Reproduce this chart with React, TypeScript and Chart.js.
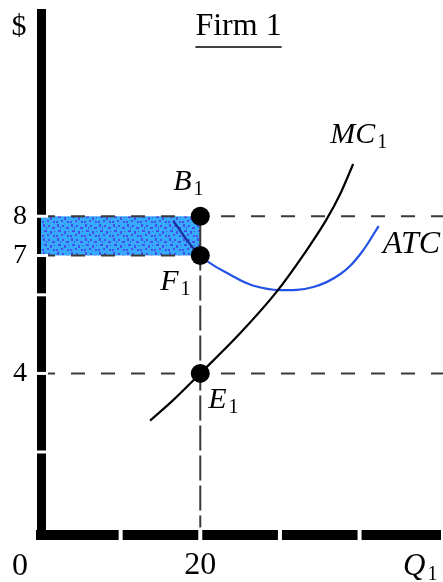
import React, { useEffect, useRef } from 'react';
import { Chart, registerables } from 'chart.js';

Chart.register(...registerables);

// ---- data ----
const quantityTicks = [10, 20, 30, 40];
const quantityTickLabels = ['', '20', '', ''];
const priceTicks = [2, 4, 6, 7, 8];
const priceTickLabels = ['', '4', '', '7', '8'];

const mcQuantity = [13.7, 16.6, 20, 25, 29.6, 33, 35.8, 37.6, 39.2];
const mcCost = [2.8, 3.32, 4, 5.02, 6.08, 7.03, 7.9, 8.58, 9.33];

const atcQuantity = [16.6, 20, 24.2, 26.7, 30, 34.2, 37.6, 40.1, 42.4];
const atcCost = [7.88, 7.0, 6.46, 6.23, 6.12, 6.2, 6.53, 7.04, 7.75];

const firmOutput = 20;
const marketPrice = 8;
const averageCost = 7;
const marginalCost = 4;
const dashedLineEnd = 50.5;
const pointNames = ['B', 'F', 'E'];
const pointValues = [marketPrice, averageCost, marginalCost];

const SERIF = '"Liberation Serif", "Times New Roman", serif';
const DASH = [14, 16];
const DASH_COLOR = '#3a3a3a';

function makePattern(): CanvasPattern | string {
  const c = document.createElement('canvas');
  c.width = 14;
  c.height = 14;
  const g = c.getContext('2d');
  if (!g) return '#3d8ff0';
  g.fillStyle = '#38aafc';
  g.fillRect(0, 0, 14, 14);
  g.fillStyle = '#4650ea';
  const specks = [
    [1, 0, 2, 3], [6, 1, 2, 2], [10, 3, 3, 2], [2, 6, 3, 2], [8, 7, 2, 3], [0, 11, 2, 2], [5, 10, 2, 2], [11, 11, 2, 2], [4, 3, 1, 2], [12, 7, 1, 1],
  ];
  specks.forEach(([x, y, w, h]) => g.fillRect(x, y, w, h));
  return g.createPattern(c, 'repeat') || '#3d8ff0';
}

const pts = (xs: number[], ys: number[]) => xs.map((x, i) => ({ x, y: ys[i] }));

export default function App() {
  const ref = useRef<HTMLCanvasElement | null>(null);

  useEffect(() => {
    document.body.style.margin = '0';
    const canvas = ref.current;
    if (!canvas) return;

    const annotations = {
      id: 'annotations',
      afterDraw(chart: any) {
        const { ctx, chartArea, scales } = chart;
        const xs = scales.x;
        const ys = scales.y;
        ctx.save();
        // axis gaps
        ctx.strokeStyle = '#ffffff';
        ctx.lineWidth = 3;
        priceTicks.forEach((v) => {
          const py = ys.getPixelForValue(v);
          ctx.beginPath();
          ctx.moveTo(chartArea.left - 7, py);
          ctx.lineTo(chartArea.left + 7, py);
          ctx.stroke();
        });
        ctx.lineWidth = 4;
        quantityTicks.forEach((v) => {
          const px = xs.getPixelForValue(v);
          ctx.beginPath();
          ctx.moveTo(px, chartArea.bottom - 7);
          ctx.lineTo(px, chartArea.bottom + 7);
          ctx.stroke();
        });

        ctx.fillStyle = '#000';
        ctx.textBaseline = 'alphabetic';
        const sub = (main: string, x: number, y: number, size: number, subSize = 20) => {
          ctx.font = `italic ${size}px ${SERIF}`;
          ctx.textAlign = 'left';
          ctx.fillText(main, x, y);
          const w = ctx.measureText(main).width;
          ctx.font = `${subSize}px ${SERIF}`;
          ctx.fillText('1', x + w + 2, y + 5);
        };

        // $ and 0
        ctx.font = `30px ${SERIF}`;
        ctx.textAlign = 'center';
        ctx.fillText('$', chartArea.left - 22, chartArea.top + 21);
        ctx.font = `32px ${SERIF}`;
        ctx.fillText('0', xs.getPixelForValue(0) - 21, chartArea.bottom + 40.5);

        // title
        ctx.font = `32px ${SERIF}`;
        ctx.textAlign = 'center';
        const tx = xs.getPixelForValue(24.8);
        ctx.fillText('Firm 1', tx, 35);
        const tw = ctx.measureText('Firm 1').width;
        ctx.strokeStyle = '#000';
        ctx.lineWidth = 1.5;
        ctx.beginPath();
        ctx.moveTo(tx - tw / 2, 47);
        ctx.lineTo(tx + tw / 2, 47);
        ctx.stroke();

        // curve labels
        const mcEndX = xs.getPixelForValue(mcQuantity[mcQuantity.length - 1]);
        const mcEndY = ys.getPixelForValue(mcCost[mcCost.length - 1]);
        sub('MC', mcEndX - 23, mcEndY - 21, 30);
        const atcEndX = xs.getPixelForValue(atcQuantity[atcQuantity.length - 1]);
        const atcEndY = ys.getPixelForValue(atcCost[atcCost.length - 1]);
        ctx.font = `italic 32px ${SERIF}`;
        ctx.textAlign = 'left';
        ctx.fillText('ATC', atcEndX + 4, atcEndY + 27);

        // point labels
        const px = xs.getPixelForValue(firmOutput);
        const offsets = [
          [-27, -26],
          [-40, 34.5],
          [8, 35],
        ];
        pointNames.forEach((n, i) => {
          const py = ys.getPixelForValue(pointValues[i]);
          sub(n, px + offsets[i][0], py + offsets[i][1], 30);
        });

        // Q1
        sub('Q', chartArea.right - 37, chartArea.bottom + 40, 31);
        ctx.restore();
      },
    };

    const fill = makePattern();

    const chart = new Chart(canvas, {
      type: 'line',
      data: {
        datasets: [
          {
            data: pointValues.map((y) => ({ x: firmOutput, y })),
            showLine: false,
            pointRadius: 9.5,
            pointBackgroundColor: '#000',
            pointBorderColor: '#000',
            pointBorderWidth: 0,
            borderColor: '#000',
          },
          {
            data: pts(mcQuantity, mcCost),
            borderColor: '#000',
            borderWidth: 2.2,
            pointRadius: 0,
            cubicInterpolationMode: 'monotone',
          },
          {
            data: pts(atcQuantity, atcCost),
            borderColor: '#2252e6',
            borderWidth: 2.2,
            pointRadius: 0,
            tension: 0.4,
            segment: {
              borderColor: (c: any) => (c.p1.parsed.x <= firmOutput ? '#1d2f9c' : undefined),
            },
          },
          {
            data: [{ x: 0, y: marketPrice }, { x: dashedLineEnd, y: marketPrice }],
            borderColor: DASH_COLOR,
            borderWidth: 2,
            borderDash: DASH,
            pointRadius: 0,
            clip: false,
          },
          {
            data: [{ x: 0, y: marginalCost }, { x: dashedLineEnd, y: marginalCost }],
            borderColor: DASH_COLOR,
            borderWidth: 2,
            borderDash: DASH,
            pointRadius: 0,
            clip: false,
          },
          {
            data: [{ x: 0, y: averageCost }, { x: firmOutput, y: averageCost }],
            borderColor: DASH_COLOR,
            borderWidth: 2,
            borderDash: DASH,
            pointRadius: 0,
          },
          {
            data: [{ x: firmOutput, y: marketPrice }, { x: firmOutput, y: averageCost }, { x: firmOutput, y: 0 }],
            borderColor: DASH_COLOR,
            borderWidth: 2,
            pointRadius: 0,
            segment: {
              borderDash: (c: any) => (c.p0DataIndex === 0 ? [] : [15, 15]),
            },
          },
          {
            data: [{ x: 0, y: marketPrice }, { x: firmOutput, y: marketPrice }],
            borderWidth: 0,
            pointRadius: 0,
            fill: '+1',
            backgroundColor: fill as any,
          },
          {
            data: [{ x: 0, y: averageCost }, { x: firmOutput, y: averageCost }],
            borderWidth: 0,
            pointRadius: 0,
          },
        ],
      },
      options: {
        animation: false,
        responsive: false,
        devicePixelRatio: 1,
        layout: { autoPadding: false, padding: { top: 13.5, right: 3, left: 0, bottom: 0 } },
        plugins: {
          legend: { display: false },
          tooltip: { enabled: false },
          title: { display: false },
        },
        scales: {
          x: {
            type: 'linear',
            min: 0,
            max: 50.1,
            afterBuildTicks: (s: any) => {
              s.ticks = quantityTicks.map((value) => ({ value }));
            },
            afterFit: (s: any) => {
              s.height = 47.5;
              s.paddingLeft = 0;
              s.paddingRight = 0;
            },
            ticks: {
              callback: (v: any) => quantityTickLabels[quantityTicks.indexOf(Number(v))] ?? '',
              font: { family: SERIF, size: 32 },
              color: '#000',
              padding: 12,
              maxRotation: 0,
              autoSkip: false,
            },
            grid: { drawOnChartArea: false, drawTicks: false },
            border: { display: true, color: '#000', width: 10 },
          },
          y: {
            type: 'linear',
            min: -0.1,
            max: 13.16,
            afterBuildTicks: (s: any) => {
              s.ticks = priceTicks.map((value) => ({ value }));
            },
            afterFit: (s: any) => {
              s.width = 41;
              s.paddingTop = 0;
              s.paddingBottom = 0;
            },
            ticks: {
              callback: (v: any) => priceTickLabels[priceTicks.indexOf(Number(v))] ?? '',
              font: { family: SERIF, size: 28 },
              color: '#000',
              padding: 14,
              autoSkip: false,
            },
            grid: { drawOnChartArea: false, drawTicks: false },
            border: { display: true, color: '#000', width: 9 },
          },
        },
      },
      plugins: [annotations],
    } as any);

    return () => chart.destroy();
  }, []);

  return (
    <div style={{ width: 443, height: 582, background: '#fff' }}>
      <canvas ref={ref} width={443} height={582} style={{ display: 'block', width: 443, height: 582 }} />
    </div>
  );
}
